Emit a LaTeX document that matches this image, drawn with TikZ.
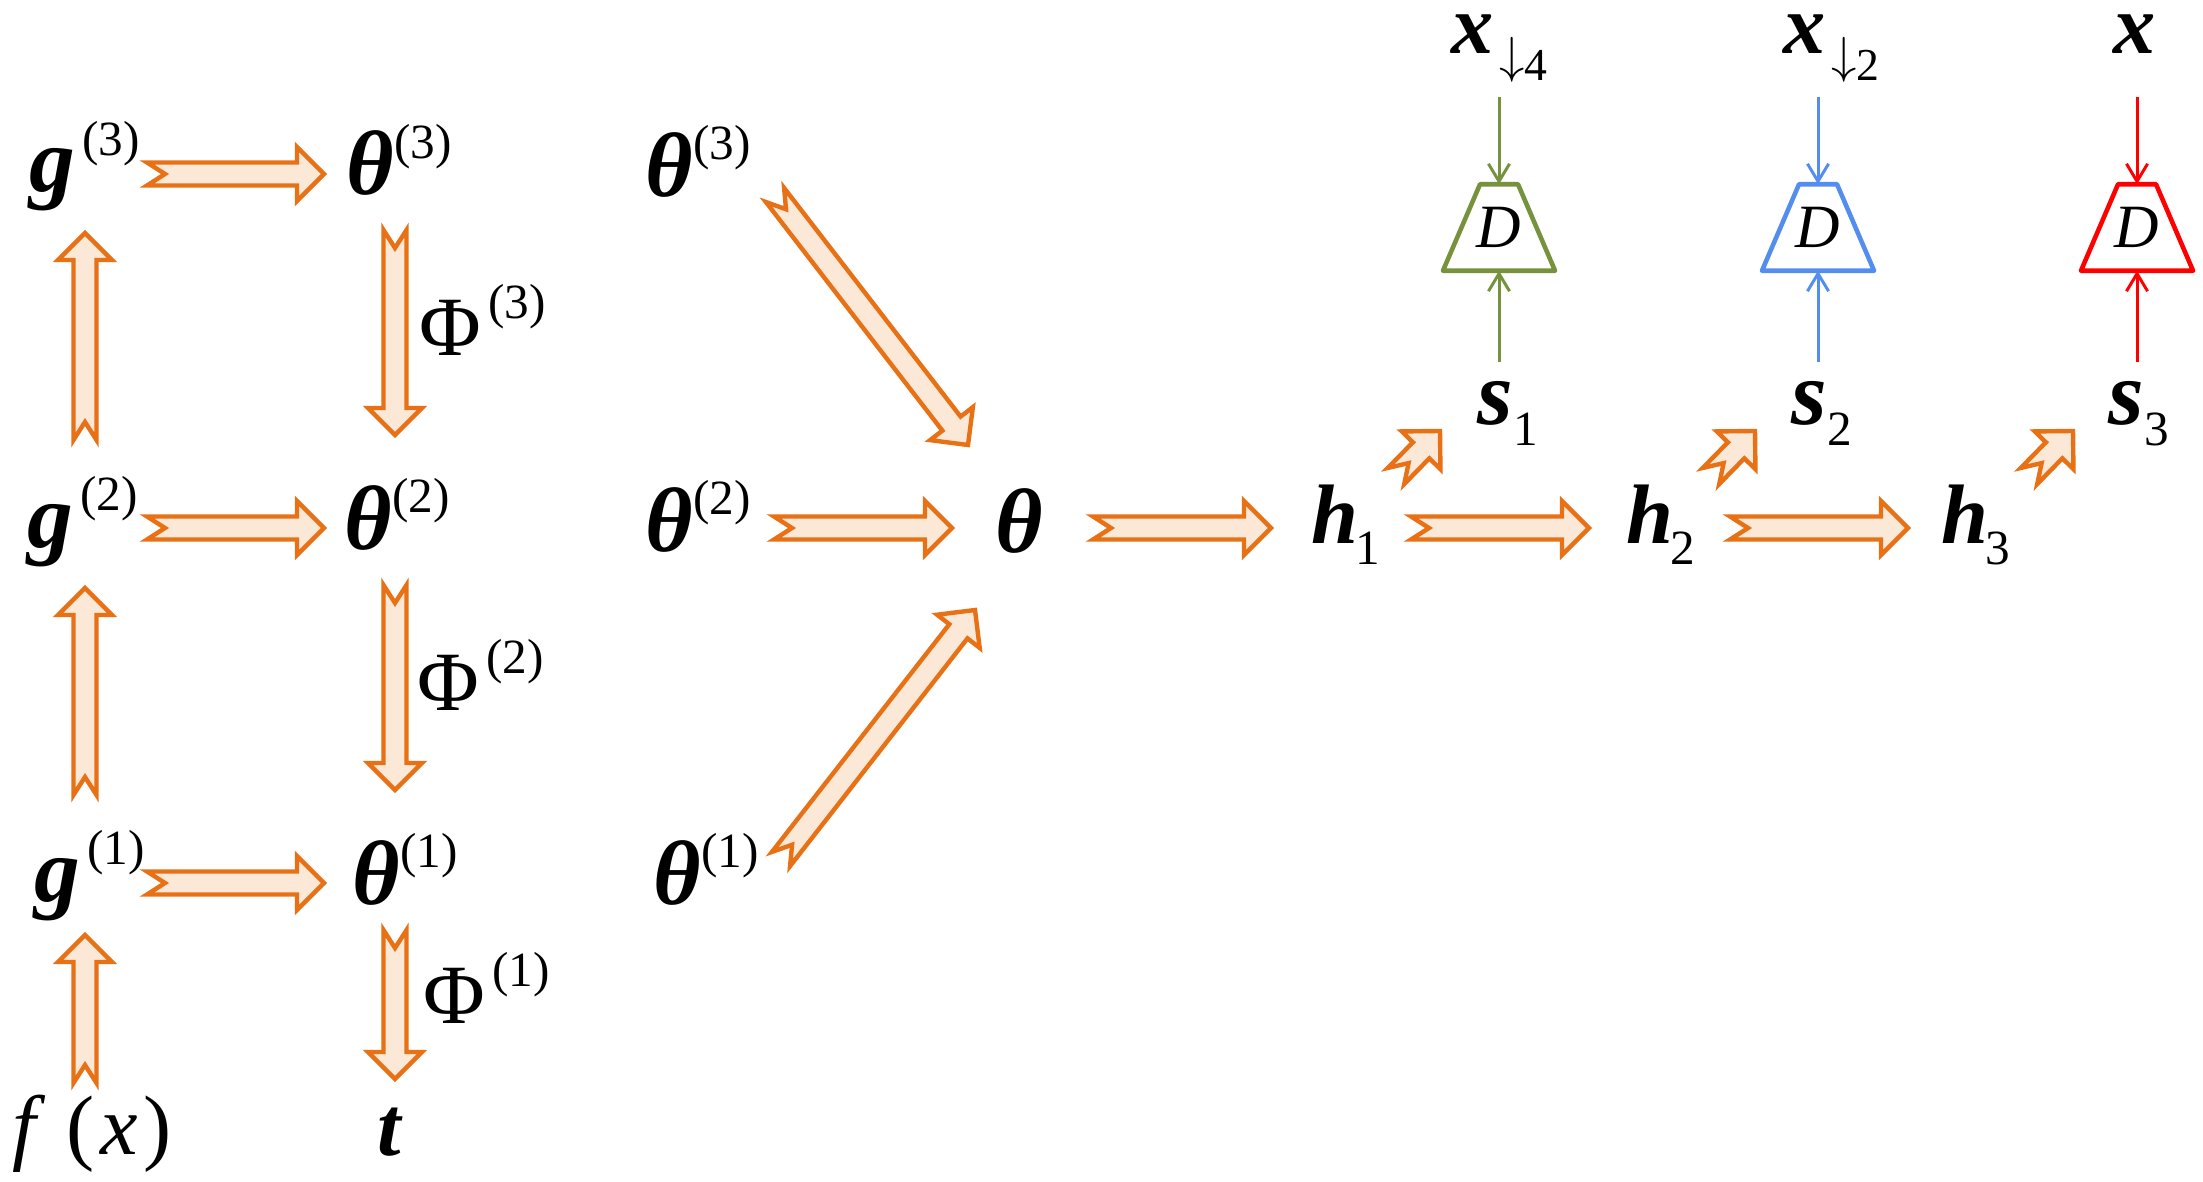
\documentclass[tikz,border=0pt]{standalone}
\usepackage{fontspec}
\setmainfont{Liberation Serif}
\usetikzlibrary{calc, arrows.meta}

\definecolor{arrline}{RGB}{232,113,22}
\definecolor{arrfill}{RGB}{252,232,215}
\definecolor{dgreen}{RGB}{118,146,60}
\definecolor{dblue}{RGB}{83,141,238}
\definecolor{dred}{RGB}{255,0,0}

\newcommand{\bsym}[1]{{\bfseries\itshape #1}}
\newcommand{\suptxt}[1]{\raisebox{10.5pt}{\fontsize{14}{14}\selectfont #1}}
\newcommand{\subtxt}[1]{\raisebox{-6pt}{\fontsize{14}{14}\selectfont #1}}
\newcommand{\dsub}[1]{\raisebox{-7.4pt}{\fontsize{13}{13}\selectfont\raisebox{2pt}{\fontsize{14}{14}\selectfont$\downarrow$}#1}}

% 空心箭头尺寸
\newcommand{\baw}{0.115cm}
\newcommand{\baW}{0.27cm}
\newcommand{\bah}{0.27cm}
\newcommand{\bad}{0.18cm}
\newcommand{\blockarrow}[2]{%
  \draw[barrow] ($(#1)!\baw!90:(#2)$) -- ($(#2)!\bah!(#1)!\baw!-90:(#1)$)
    -- ($(#2)!\bah!(#1)!\baW!-90:(#1)$) -- (#2)
    -- ($(#2)!\bah!(#1)!\baW!90:(#1)$) -- ($(#2)!\bah!(#1)!\baw!90:(#1)$)
    -- ($(#1)!\baw!-90:(#2)$) -- ($(#1)!\bad!(#2)$) -- cycle;}

\tikzset{
  barrow/.style={draw=arrline, fill=arrfill, line width=1.25pt, line join=miter},
  lab/.style={inner sep=0pt, anchor=base west, font=\fontsize{26}{26}\selectfont},
  labs/.style={lab, font=\fontsize{24}{24}\selectfont},
  dlab/.style={inner sep=0pt, minimum height=0.85cm, font=\fontsize{17.5}{17.5}\selectfont\itshape},
  dbox/.style={line width=1.3pt, line join=round},
  feed/.style={line width=0.85pt, -{Straight Barb[length=5pt, width=6pt]}},
}

\begin{document}
\begin{tikzpicture}[x=0.01cm, y=-0.01cm]
        \useasboundingbox (0,0) rectangle (2203,1182);

        % 左侧两列
        \node[lab] (g3) at (29,192) {\bsym{g}\hspace{2pt}\suptxt{(3)}};
        \node[lab] (g2) at (27,547) {\bsym{g}\hspace{2pt}\suptxt{(2)}};
        \node[lab] (g1) at (34,901) {\bsym{g}\hspace{2pt}\suptxt{(1)}};
        \node[labs] (fx) at (12,1154) {\textit{f}\hspace{6pt}(\hspace{1.5pt}\textit{x}\hspace{1.5pt})};
        \node[lab] (t3) at (346,195) {\bsym{θ}\suptxt{(3)}};
        \node[lab] (t2) at (344,549) {\bsym{θ}\suptxt{(2)}};
        \node[lab] (t1) at (352,904) {\bsym{θ}\suptxt{(1)}};
        \node[labs] (tt) at (377,1155) {\bsym{t}};
        \node[labs] (p3) at (419,355) {Φ\hspace{2pt}\suptxt{(3)}};
        \node[labs] (p2) at (417,710) {Φ\hspace{2pt}\suptxt{(2)}};
        \node[labs] (p1) at (423,1023) {Φ\hspace{2pt}\suptxt{(1)}};

        % g -> theta
        \coordinate (ga3) at (147,174); \coordinate (ta3) at (324,174);
        \coordinate (ga2) at (147,528); \coordinate (ta2) at (324,528);
        \coordinate (ga1) at (147,883); \coordinate (ta1) at (324,883);
        \blockarrow{ga3}{ta3}
        \blockarrow{ga2}{ta2}
        \blockarrow{ga1}{ta1}

        % 向上 f -> g
        \coordinate (fo) at (85,1083); \coordinate (gi1) at (85,935);
        \coordinate (go1) at (85,795); \coordinate (gi2) at (85,588);
        \coordinate (go2) at (85,440); \coordinate (gi3) at (85,233);
        \blockarrow{fo}{gi1}
        \blockarrow{go1}{gi2}
        \blockarrow{go2}{gi3}

        % 向下 Phi
        \coordinate (to3) at (395,230); \coordinate (ti2) at (395,435);
        \coordinate (to2) at (395,585); \coordinate (ti1) at (395,790);
        \coordinate (to1) at (395,930); \coordinate (tti) at (395,1079);
        \blockarrow{to3}{ti2}
        \blockarrow{to2}{ti1}
        \blockarrow{to1}{tti}

        % 中间汇合
        \node[lab] (m3) at (645,196) {\bsym{θ}\suptxt{(3)}};
        \node[lab] (m2) at (645,551) {\bsym{θ}\suptxt{(2)}};
        \node[lab] (m1) at (653,904) {\bsym{θ}\suptxt{(1)}};
        \node[lab] (th) at (995,552) {\bsym{θ}};
        \coordinate (mo3) at (775,195); \coordinate (thi3) at (968,445);
        \coordinate (mo2) at (774,528); \coordinate (thi2) at (952,528);
        \coordinate (mo1) at (781,859); \coordinate (thi1) at (975,610);
        \blockarrow{mo3}{thi3}
        \blockarrow{mo2}{thi2}
        \blockarrow{mo1}{thi1}

        % h 链
        \node[labs] (h1) at (1311,543) {\bsym{h}\kern-1pt\subtxt{1}};
        \node[labs] (h2) at (1626,543) {\bsym{h}\kern-1pt\subtxt{2}};
        \node[labs] (h3) at (1941,543) {\bsym{h}\kern-1pt\subtxt{3}};
        \coordinate (tho) at (1093,528); \coordinate (hi1) at (1271,528);
        \coordinate (ho1) at (1411,528); \coordinate (hi2) at (1589,528);
        \coordinate (ho2) at (1730,528); \coordinate (hi3) at (1908,528);
        \blockarrow{tho}{hi1}
        \blockarrow{ho1}{hi2}
        \blockarrow{ho2}{hi3}

        % h -> s 小箭头
        \node[lab] (s1) at (1477,424) {\bsym{s}\subtxt{1}};
        \node[lab] (s2) at (1791,424) {\bsym{s}\subtxt{2}};
        \node[lab] (s3) at (2108,424) {\bsym{s}\subtxt{3}};
        \coordinate (hs1) at (1396,476); \coordinate (si1) at (1440,431);
        \coordinate (hs2) at (1711,476); \coordinate (si2) at (1755,431);
        \coordinate (hs3) at (2029,476); \coordinate (si3) at (2073,431);
        \blockarrow{hs1}{si1}
        \blockarrow{hs2}{si2}
        \blockarrow{hs3}{si3}

        % 判别器 D
        \node[labs] (x1) at (1451,54) {\bsym{x}\hspace{1.5pt}\dsub{4}};
        \node[labs] (x2) at (1783,54) {\bsym{x}\hspace{1.5pt}\dsub{2}};
        \node[labs] (x3) at (2113,54) {\bsym{x}};
        \node[dlab] (d1) at (1499,227.5) {D};
        \node[dlab] (d2) at (1818,227.5) {D};
        \node[dlab] (d3) at (2137,227.5) {D};
        \foreach \d/\c in {d1/dgreen, d2/dblue, d3/dred}
          \draw[dbox, \c] ([xshift=-0.19cm]\d.north) -- ([xshift=0.19cm]\d.north)
            -- ([xshift=0.56cm]\d.south) -- ([xshift=-0.56cm]\d.south) -- cycle;
        \coordinate (xo1) at (1499,97); \coordinate (so1) at (1499,362);
        \coordinate (xo2) at (1818,97); \coordinate (so2) at (1818,362);
        \coordinate (xo3) at (2137,97); \coordinate (so3) at (2137,362);
        \draw[feed, dgreen] (xo1) -- (d1.north);
        \draw[feed, dgreen] (so1) -- (d1.south);
        \draw[feed, dblue] (xo2) -- (d2.north);
        \draw[feed, dblue] (so2) -- (d2.south);
        \draw[feed, dred] (xo3) -- (d3.north);
        \draw[feed, dred] (so3) -- (d3.south);
\end{tikzpicture}
\end{document}
